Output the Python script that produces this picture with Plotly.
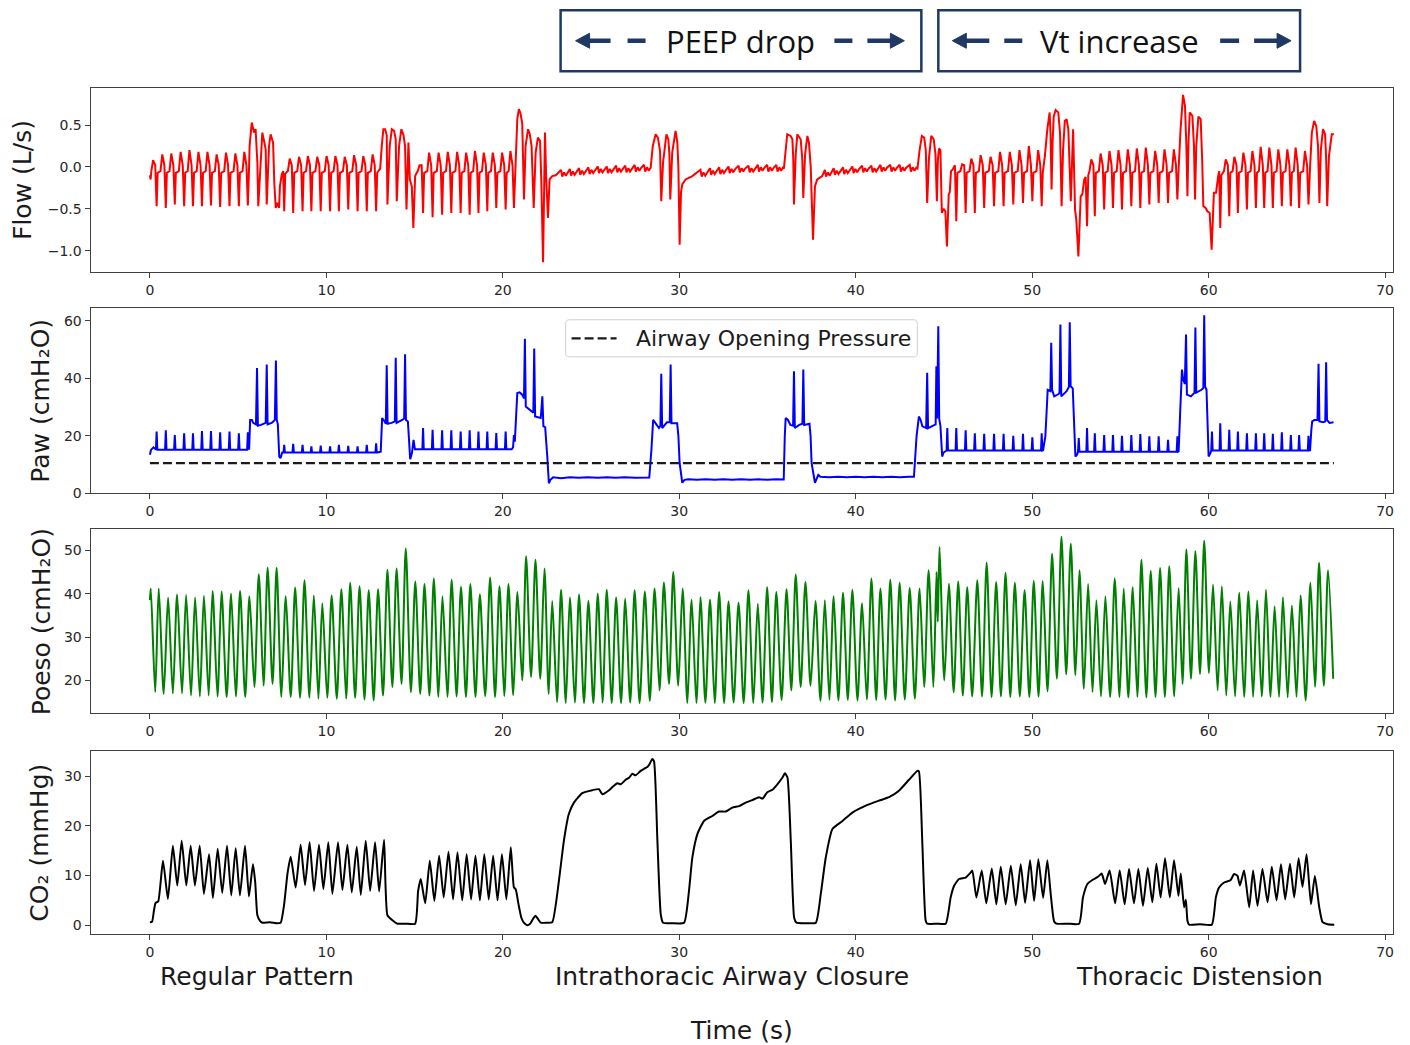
import plotly.graph_objects as go

W, H = 1410, 1045

# ---------------------------------------------------------------- Flow (L/s)
# Regular spontaneous breaths: time of expiratory dip, inspiratory peak, dip value
flow_breath_t = [0.38, 0.9, 1.41, 1.94, 2.44, 2.95, 3.46, 3.98, 4.51, 5.04, 5.55,
                 8.12, 8.65, 9.15, 9.68, 10.21, 10.71, 11.24, 11.77, 12.29, 12.82,
                 15.48, 16.02, 16.56, 17.08, 17.61, 18.12, 18.62, 19.12, 19.63, 20.16, 20.63,
                 45.7, 46.23, 46.75, 47.28, 47.84, 48.38, 48.93, 49.48, 50.01, 50.54,
                 53.55, 54.08, 54.58, 55.09, 55.62, 56.13, 56.64, 57.17, 57.7, 58.23,
                 61.17, 61.66, 62.17, 62.68, 63.15, 63.64, 64.15, 64.66, 65.13, 65.66]
flow_breath_peak = [0.08, 0.15, 0.16, 0.18, 0.2, 0.18, 0.18, 0.15, 0.17, 0.16, 0.18,
                    0.1, 0.12, 0.13, 0.12, 0.13, 0.13, 0.12, 0.14, 0.13, 0.15,
                    0.02, 0.17, 0.17, 0.18, 0.18, 0.17, 0.19, 0.17, 0.17, 0.17, 0.19,
                    -0.03, 0.03, 0.1, 0.14, 0.12, 0.18, 0.18, 0.2, 0.25, 0.2,
                    0.09, 0.16, 0.19, 0.2, 0.21, 0.22, 0.23, 0.19, 0.21, 0.21,
                    0.09, 0.12, 0.17, 0.19, 0.24, 0.23, 0.21, 0.21, 0.23, 0.19]
flow_breath_dip = [-0.47, -0.49, -0.45, -0.47, -0.47, -0.47, -0.46, -0.48, -0.47, -0.47, -0.46,
                   -0.55, -0.53, -0.53, -0.53, -0.53, -0.53, -0.51, -0.53, -0.53, -0.53,
                   -0.55, -0.6, -0.57, -0.55, -0.55, -0.57, -0.55, -0.53, -0.49, -0.51, -0.49,
                   -0.65, -0.55, -0.55, -0.49, -0.47, -0.47, -0.45, -0.43, -0.41, -0.47,
                   -0.59, -0.51, -0.49, -0.51, -0.47, -0.49, -0.45, -0.43, -0.43, -0.39,
                   -0.59, -0.55, -0.51, -0.49, -0.49, -0.49, -0.47, -0.47, -0.49, -0.45]
# Small efforts during airway closure: time and local flow level
flow_closed_t = [23.3, 23.8, 24.32, 24.85, 25.38, 25.89, 26.42, 26.94, 27.47, 28.0,
                 31.2, 31.74, 32.26, 32.79, 33.36, 33.92, 34.45, 34.98, 35.5,
                 38.25, 38.75, 39.28, 39.81, 40.36, 40.89, 41.4, 41.96, 42.49, 43.06]
flow_closed_level = [-0.08, -0.07, -0.06, -0.05, -0.04, -0.04, -0.03, -0.03, -0.02, -0.02,
                     -0.08, -0.06, -0.05, -0.04, -0.03, -0.03, -0.02, -0.02, -0.02,
                     -0.08, -0.06, -0.05, -0.04, -0.03, -0.03, -0.02, -0.02, -0.02, -0.02]
# Large-breath bursts, written point by point
flow_seg_t = [0.0, 0.04,
              5.65, 5.77, 5.9, 5.99, 6.09, 6.14, 6.28, 6.37, 6.47, 6.56, 6.62, 6.75, 6.84, 6.98,
              7.05, 7.13, 7.22, 7.32, 7.37, 7.47, 7.55, 7.61, 7.67,
              13.05, 13.14, 13.23, 13.33, 13.42, 13.46, 13.59, 13.71, 13.84, 13.93, 13.99, 14.12,
              14.25, 14.37, 14.46, 14.54, 14.65, 14.73, 14.84, 14.93, 15.03, 15.12,
              20.75, 20.82, 20.91, 21.0, 21.1, 21.2, 21.29, 21.43, 21.52, 21.63, 21.75, 21.86,
              21.99, 22.11, 22.18, 22.28, 22.35, 22.39, 22.46, 22.56, 22.65, 22.8, 23.0,
              28.38, 28.5, 28.66, 28.79, 28.91, 28.98, 29.08, 29.27, 29.38, 29.44, 29.49, 29.6,
              29.79, 29.89, 29.95, 30.02, 30.1, 30.17, 30.36, 30.74,
              35.93, 36.03, 36.12, 36.31, 36.41, 36.46, 36.5, 36.6, 36.69, 36.88, 36.97, 37.03,
              37.13, 37.26, 37.35, 37.45, 37.58, 37.69, 37.82, 38.1,
              43.5, 43.62, 43.75, 43.88, 43.97, 44.05, 44.15, 44.28, 44.42, 44.52, 44.6, 44.66,
              44.72, 44.8, 44.88, 44.98, 45.08, 45.17, 45.27, 45.33,
              50.72, 50.86, 50.99, 51.04, 51.1, 51.16, 51.22, 51.33, 51.48, 51.58, 51.67, 51.75,
              51.85, 51.95, 52.05, 52.19, 52.26, 52.32, 52.43, 52.5, 52.62, 52.75, 52.84, 52.95,
              53.03, 53.11, 53.18,
              58.33, 58.41, 58.55, 58.66, 58.74, 58.8, 58.86, 58.93, 59.08, 59.17, 59.23, 59.3,
              59.42, 59.55, 59.64, 59.7, 59.83, 59.93, 60.06, 60.17, 60.3, 60.42, 60.55, 60.6,
              60.66, 60.72,
              65.75, 65.85, 65.98, 66.1, 66.2, 66.28, 66.36, 66.48, 66.6, 66.66, 66.72, 66.82,
              66.98, 67.1]
flow_seg_v = [-0.1, -0.15,
              0.25, 0.53, 0.41, 0.45, 0.05, -0.47, 0.07, 0.41, 0.31, 0.21, -0.45, 0.25, 0.39, 0.29,
              -0.19, -0.49, -0.43, -0.49, -0.23, -0.09, -0.05, -0.53, -0.08,
              -0.02, 0.25, 0.45, 0.45, 0.38, -0.45, 0.25, 0.45, 0.43, 0.33, -0.41, 0.25,
              0.45, 0.38, 0.25, -0.51, 0.29, -0.15, -0.23, -0.73, -0.11, -0.07,
              0.3, 0.57, 0.69, 0.64, 0.52, -0.39, 0.25, 0.45, 0.4, 0.25, -0.49, 0.17,
              0.35, 0.31, -0.15, -1.14, -0.15, 0.41, -0.15, -0.61, -0.15, -0.11, -0.1,
              -0.01, 0.25, 0.39, 0.35, 0.19, -0.41, 0.05, 0.39, 0.33, 0.15, -0.39, 0.17,
              0.43, 0.29, 0.0, -0.93, -0.3, -0.21, -0.15, -0.11,
              -0.02, 0.25, 0.39, 0.37, 0.33, 0.1, -0.45, 0.15, 0.39, 0.33, 0.1, -0.37,
              0.15, 0.37, 0.29, 0.0, -0.87, -0.23, -0.15, -0.11,
              -0.02, 0.2, 0.37, 0.35, 0.2, -0.43, 0.1, 0.37, 0.33, 0.15, -0.41, 0.1,
              0.22, 0.2, -0.55, -0.5, -0.53, -0.95, -0.33, -0.3,
              0.13, 0.45, 0.65, 0.4, -0.27, 0.3, 0.6, 0.68, 0.65, 0.4, -0.47, 0.2,
              0.55, 0.57, 0.45, -0.41, 0.2, 0.45, -0.51, -0.63, -1.07, -0.35, -0.33, -0.15,
              -0.12, -0.71, -0.1,
              0.1, 0.45, 0.86, 0.73, 0.25, -0.35, 0.3, 0.65, 0.61, 0.25, -0.39, 0.25,
              0.6, 0.57, 0.05, -0.47, -0.49, -0.53, -0.55, -0.99, -0.31, -0.31, -0.1, -0.05,
              -0.73, -0.1,
              0.0, 0.41, 0.55, 0.49, 0.25, -0.43, 0.2, 0.45, 0.39, 0.1, -0.47, 0.13,
              0.39, 0.39]

# ---------------------------------------------------------------- Paw (cmH2O)
paw_spike_t = [0.38, 0.9, 1.41, 1.94, 2.44, 2.95, 3.46, 3.98, 4.51, 5.04, 5.55,
               7.61, 8.12, 8.65, 9.15, 9.68, 10.21, 10.71, 11.24, 11.77, 12.29, 12.82,
               15.48, 16.02, 16.56, 17.08, 17.61, 18.12, 18.62, 19.12, 19.63, 20.16,
               45.19, 45.7, 46.23, 46.75, 47.28, 47.84, 48.38, 48.93, 49.48, 50.01, 50.54,
               52.64, 53.11, 53.55, 54.08, 54.58, 55.09, 55.62, 56.13, 56.64, 57.17, 57.7, 58.23,
               60.19, 60.66, 61.17, 61.66, 62.17, 62.68, 63.15, 63.64, 64.15, 64.66, 65.13, 65.66]
paw_spike_v = [21.5, 21.9, 20.3, 20.9, 20.9, 21.7, 21.7, 21.2, 21.5, 20.9, 21.2,
               16.9, 17.2, 16.9, 16.3, 16.6, 16.3, 16.9, 16.5, 16.3, 16.9, 17.4,
               22.7, 22.1, 21.9, 21.9, 21.5, 21.9, 21.5, 21.5, 21.0, 21.5,
               22.7, 22.7, 21.9, 20.9, 20.7, 20.7, 20.7, 20.0, 20.7, 19.5, 20.9,
               19.2, 22.7, 20.9, 20.3, 20.3, 20.0, 20.3, 20.6, 19.8, 19.8, 18.6, 19.8,
               21.5, 24.4, 22.1, 21.5, 20.9, 20.9, 20.9, 20.7, 21.2, 20.3, 20.3, 20.0]
paw_spike_base = [15.2] * 11 + [14.2] * 11 + [15.3] * 10 + [14.9] * 11 + [14.5] * 12 + [14.9] * 12
paw_seg_t = [0.0, 0.06, 0.2, 0.3,
             5.62, 5.68, 5.78, 5.85, 6.01, 6.07, 6.12, 6.3, 6.56, 6.62, 6.67, 6.9, 7.08, 7.14,
             7.19, 7.25, 7.33, 7.4, 7.5,
             12.9, 13.08, 13.16, 13.3, 13.37, 13.42, 13.47, 13.7, 13.88, 13.93, 13.98, 14.3,
             14.41, 14.46, 14.51, 14.62, 14.75, 14.85, 14.94, 15.02,
             20.5, 20.58, 20.63, 20.68, 20.82, 20.95, 21.1, 21.2, 21.25, 21.3, 21.55, 21.73,
             21.78, 21.83, 22.15, 22.24, 22.3, 22.4, 22.52, 22.61, 22.7, 22.85,
             23.3, 23.8, 24.3, 24.8, 25.4, 25.9, 26.4, 26.9, 27.5, 28.0, 28.3,
             28.42, 28.52, 28.65, 28.85, 28.93, 28.98, 29.03, 29.3, 29.46, 29.51, 29.56, 29.88,
             29.95, 30.02, 30.17, 30.3, 30.5,
             31.0, 31.5, 32.0, 32.5, 33.0, 33.5, 34.0, 34.5, 35.0, 35.5, 35.92,
             35.98, 36.03, 36.15, 36.3, 36.45, 36.5, 36.55, 36.8, 36.98, 37.03, 37.08, 37.38,
             37.44, 37.5, 37.69, 37.88, 38.0,
             38.5, 39.0, 39.5, 40.0, 40.5, 41.0, 41.5, 42.0, 42.5, 43.0, 43.3,
             43.45, 43.58, 43.68, 43.78, 43.99, 44.05, 44.1, 44.45, 44.53, 44.57, 44.61, 44.68,
             44.73, 44.8, 44.9, 44.98, 45.05,
             50.62, 50.75, 50.88, 51.03, 51.08, 51.13, 51.25, 51.5, 51.55, 51.6, 51.65, 51.95,
             52.08, 52.13, 52.18, 52.3, 52.45, 52.55,
             58.3, 58.4, 58.49, 58.55, 58.65, 58.72, 58.77, 59.0, 59.15, 59.2, 59.25, 59.3,
             59.6, 59.7, 59.75, 59.8, 59.88, 60.0, 60.1,
             65.75, 65.82, 65.87, 66.0, 66.17, 66.23, 66.28, 66.5, 66.61, 66.66, 66.71, 66.85,
             67.08]
paw_seg_v = [13.4, 15.1, 16.0, 15.3,
             15.2, 25.5, 25.5, 24.5, 24.0, 43.6, 23.5, 23.8, 24.5, 44.8, 24.0, 24.5, 25.5, 46.2,
             25.5, 24.0, 12.8, 12.2, 14.2,
             14.2, 14.5, 26.2, 25.0, 24.2, 44.5, 24.2, 24.5, 25.0, 47.1, 24.5, 25.5,
             26.0, 48.3, 25.5, 25.0, 11.9, 14.0, 18.6, 15.3,
             15.3, 16.0, 20.3, 18.0, 34.9, 35.1, 34.3, 33.0, 53.7, 30.2, 29.1, 28.0,
             50.3, 26.7, 26.2, 33.7, 23.3, 23.0, 12.8, 3.5, 4.7, 5.6,
             5.3, 5.6, 5.4, 5.6, 5.4, 5.6, 5.4, 5.6, 5.4, 5.6, 5.5,
             15.0, 25.6, 24.4, 22.7, 23.5, 41.6, 22.7, 24.7, 24.8, 44.8, 24.4, 24.4,
             20.0, 10.5, 3.7, 4.7, 4.9,
             4.7, 4.9, 4.7, 4.9, 4.7, 4.9, 4.7, 4.9, 4.7, 4.9, 4.8,
             20.0, 26.2, 25.6, 23.8, 23.5, 42.4, 22.7, 23.8, 24.2, 43.0, 23.8, 24.2,
             20.0, 10.5, 3.7, 6.4, 5.8,
             5.6, 5.8, 5.6, 5.8, 5.6, 5.8, 5.6, 5.8, 5.6, 5.8, 5.8,
             20.0, 26.7, 25.5, 23.3, 22.7, 41.9, 22.7, 23.8, 24.0, 44.2, 26.0, 58.1,
             26.0, 23.5, 12.8, 14.2, 14.5,
             15.0, 20.0, 36.0, 35.5, 52.3, 36.0, 33.7, 34.5, 35.0, 58.7, 33.7, 35.5,
             37.0, 59.5, 37.2, 36.5, 12.8, 13.5,
             14.6, 30.0, 43.0, 40.0, 38.0, 55.2, 34.3, 33.7, 34.5, 35.0, 57.6, 35.0,
             36.0, 36.6, 61.9, 37.2, 36.0, 12.8, 14.0,
             15.0, 22.0, 25.0, 25.5, 25.5, 45.0, 25.0, 24.7, 25.0, 45.6, 25.5, 24.5,
             24.7]
opening_pressure = 10.5
opening_span = [0.0, 67.1]

# ---------------------------------------------------------------- Poeso (cmH2O)
poeso_start = (0.0, 38.5)
poeso_peak_t = [0.05, 0.5, 1.03, 1.54, 2.05, 2.56, 3.06, 3.55, 4.06, 4.6,
                5.11, 5.64, 6.17, 6.67, 7.18, 7.7, 8.23, 8.76, 9.29, 9.77,
                10.3, 10.85, 11.35, 11.88, 12.4, 12.93, 13.46, 13.98, 14.5, 15.04,
                15.56, 16.09, 16.58, 17.1, 17.63, 18.16, 18.7, 19.28, 19.81, 20.32,
                20.83, 21.32, 21.85, 22.36, 22.8, 23.3, 23.8, 24.32, 24.85, 25.38,
                25.89, 26.42, 26.94, 27.47, 28.05, 28.6, 29.13, 29.66, 30.19, 30.7,
                31.2, 31.74, 32.26, 32.79, 33.36, 33.92, 34.45, 34.98, 35.5, 36.08,
                36.6, 37.15, 37.72, 38.25, 38.75, 39.28, 39.81, 40.36, 40.89, 41.4,
                41.96, 42.49, 43.06, 43.62, 44.13, 44.75, 45.28, 45.81, 46.32, 46.89,
                47.42, 47.96, 48.49, 49.02, 49.57, 50.09, 50.6, 51.13, 51.66, 52.19,
                52.68, 53.17, 53.64, 54.15, 54.68, 55.19, 55.7, 56.19, 56.72, 57.25,
                57.77, 58.3, 58.74, 59.25, 59.75, 60.25, 60.75, 61.23, 61.74, 62.26,
                62.75, 63.25, 63.74, 64.21, 64.72, 65.21, 65.77, 66.26, 66.77,
                44.58]
poeso_peak_v = [41.2, 41.2, 39.1, 39.8, 39.7, 39.1, 39.5, 40.6, 40.5, 40.0,
                40.6, 39.4, 44.5, 46.0, 46.0, 39.4, 41.4, 43.1, 39.6, 37.8,
                39.6, 41.0, 42.5, 41.7, 40.8, 41.0, 45.5, 45.8, 50.4, 42.8,
                42.2, 43.5, 39.4, 43.2, 41.6, 42.2, 39.8, 43.7, 41.7, 42.2,
                40.4, 48.6, 47.8, 45.8, 38.3, 40.9, 39.1, 39.8, 38.3, 40.0,
                40.9, 39.1, 38.8, 40.8, 40.5, 41.2, 42.6, 45.0, 41.2, 38.6,
                39.2, 38.6, 40.4, 38.2, 37.9, 40.8, 37.7, 41.5, 40.4, 41.0,
                44.4, 42.7, 38.3, 38.5, 39.4, 40.2, 40.9, 37.8, 43.5, 41.2,
                43.2, 42.5, 41.3, 41.2, 45.4, 50.8, 42.3, 42.8, 41.5, 43.1,
                47.1, 42.7, 44.8, 42.5, 40.8, 42.9, 42.9, 49.2, 53.1, 51.5,
                45.4, 42.2, 38.5, 39.4, 43.5, 41.2, 41.5, 47.8, 45.2, 45.9,
                46.3, 41.3, 50.2, 49.8, 52.2, 42.1, 41.7, 38.2, 40.2, 40.5,
                38.5, 40.9, 37.1, 39.2, 37.3, 39.6, 42.5, 47.1, 45.4,
                45.0]
poeso_trough_t = [0.3, 0.78, 1.3, 1.82, 2.33, 2.83, 3.33, 3.83, 4.35, 4.87,
                  5.4, 5.92, 6.44, 6.95, 7.45, 7.98, 8.51, 9.04, 9.55, 10.05,
                  10.59, 11.12, 11.63, 12.16, 12.68, 13.21, 13.74, 14.26, 14.79, 15.32,
                  15.84, 16.35, 16.86, 17.38, 17.91, 18.45, 19.0, 19.56, 20.08, 20.59,
                  21.1, 21.6, 22.12, 22.6, 23.07, 23.57, 24.08, 24.6, 25.13, 25.65,
                  26.17, 26.7, 27.22, 27.75, 28.33, 28.88, 29.42, 29.94, 30.46, 30.97,
                  31.48, 32.01, 32.54, 33.08, 33.65, 34.2, 34.72, 35.25, 35.8, 36.35,
                  36.88, 37.44, 38.0, 38.51, 39.02, 39.55, 40.1, 40.63, 41.16, 41.69,
                  42.23, 42.78, 43.35, 43.88, 44.4, 45.02, 45.55, 46.07, 46.6, 47.16,
                  47.7, 48.23, 48.76, 49.3, 49.84, 50.36, 50.87, 51.4, 51.93, 52.45,
                  52.93, 53.42, 53.9, 54.42, 54.95, 55.45, 55.96, 56.47, 56.99, 57.52,
                  58.05, 58.52, 59.0, 59.51, 60.02, 60.51, 61.0, 61.5, 62.01, 62.52,
                  63.01, 63.51, 63.99, 64.48, 64.98, 65.5, 66.03, 66.53, 67.06,
                  44.65]
poeso_trough_v = [17.3, 16.9, 17.0, 17.0, 16.5, 16.3, 16.5, 16.3, 16.2, 16.3,
                  16.2, 18.5, 18.8, 19.2, 16.2, 16.2, 16.0, 16.0, 15.8, 16.0,
                  15.8, 15.8, 16.0, 15.6, 15.4, 16.5, 18.5, 19.2, 17.3, 16.9,
                  16.5, 16.2, 16.2, 16.3, 16.2, 16.2, 16.4, 16.2, 16.4, 16.6,
                  20.0, 20.8, 20.4, 16.9, 15.0, 14.8, 14.9, 14.8, 14.8, 14.9,
                  14.8, 14.8, 14.9, 14.8, 15.3, 17.7, 19.2, 18.8, 14.8, 14.8,
                  14.9, 14.8, 14.8, 14.9, 14.8, 14.8, 14.9, 15.0, 15.5, 17.7,
                  18.5, 18.8, 15.3, 15.5, 15.4, 15.5, 15.4, 15.6, 15.5, 15.6,
                  15.4, 15.6, 15.8, 18.5, 18.5, 20.0, 17.3, 16.5, 16.3, 16.3,
                  16.2, 16.3, 16.2, 16.3, 16.2, 16.3, 17.5, 20.4, 21.4, 21.2,
                  18.1, 17.3, 16.3, 16.2, 16.2, 16.1, 16.2, 16.1, 16.2, 16.2,
                  16.3, 19.2, 20.4, 21.5, 21.7, 17.7, 16.5, 16.3, 16.2, 16.2,
                  16.3, 16.2, 16.2, 16.1, 16.2, 15.4, 18.5, 18.8, 20.4,
                  33.5]

# ---------------------------------------------------------------- CO2 (mmHg)
co2_t = [0.0, 0.12, 0.23, 0.32, 0.47, 0.74, 1.02, 1.3, 1.55, 1.8, 2.06, 2.31, 2.55, 2.82,
         3.06, 3.35, 3.57, 3.84, 4.1, 4.37, 4.61, 4.86, 5.1, 5.39, 5.61, 5.84, 5.97, 6.09,
         6.25, 6.37, 6.8, 7.2, 7.41, 7.6, 7.8, 7.98, 8.26, 8.54, 8.79, 9.05, 9.3, 9.58, 9.83,
         10.11, 10.34, 10.66, 10.91, 11.19, 11.44, 11.72, 11.95, 12.23, 12.48, 12.76, 12.99,
         13.27, 13.46, 13.74, 14.03, 14.5, 15.03, 15.2, 15.35, 15.6, 15.86, 16.12, 16.39,
         16.65, 16.92, 17.18, 17.43, 17.7, 17.95, 18.2, 18.45, 18.7, 18.95, 19.2, 19.45,
         19.7, 19.95, 20.2, 20.45, 20.63, 20.72, 20.78, 20.9, 21.05, 21.19, 21.38, 21.55,
         21.7, 21.85, 22.0, 22.15, 22.5, 22.8, 23.18, 23.46, 23.74, 24.03, 24.5, 25.07,
         25.45, 25.64, 26.02, 26.2, 26.49, 26.68, 26.96, 27.15, 27.34, 27.53, 27.81, 28.0,
         28.19, 28.32, 28.47, 28.57, 28.76, 28.95, 29.08, 29.6, 30.27, 30.55, 30.74, 31.03,
         31.4, 31.87, 32.25, 32.63, 33.01, 33.39, 33.76, 34.14, 34.52, 34.71, 34.99, 35.28,
         35.56, 35.84, 35.99, 36.13, 36.32, 36.51, 36.64, 37.2, 37.74, 38.02, 38.3, 38.68,
         39.25, 39.81, 40.57, 41.32, 41.89, 42.45, 43.02, 43.49, 43.58, 43.77, 43.96, 44.05,
         44.6, 45.1, 45.38, 45.57, 45.85, 46.23, 46.51, 46.61, 46.84, 47.14, 47.4, 47.71,
         47.97, 48.22, 48.5, 48.79, 49.07, 49.35, 49.6, 49.88, 50.11, 50.35, 50.62, 50.86,
         51.05, 51.24, 51.37, 52.0, 52.66, 52.88, 53.13, 53.41, 53.75, 53.94, 54.13, 54.39,
         54.7, 54.96, 55.24, 55.49, 55.77, 56.02, 56.28, 56.55, 56.81, 57.04, 57.28, 57.53,
         57.8, 58.04, 58.29, 58.42, 58.61, 58.71, 58.8, 58.89, 59.5, 60.18, 60.41, 60.59,
         60.88, 61.25, 61.44, 61.63, 61.77, 62.01, 62.3, 62.52, 62.77, 63.05, 63.34, 63.58,
         63.85, 64.1, 64.34, 64.61, 64.85, 65.1, 65.32, 65.55, 65.8, 66.02, 66.27, 66.46,
         66.74, 67.12]
co2_v = [0.6, 0.7, 3.0, 4.5, 4.8, 13.0, 5.3, 16.0, 8.0, 17.0, 8.0, 16.0, 8.0, 16.0,
         6.3, 14.3, 5.5, 15.4, 6.5, 16.0, 6.0, 15.5, 6.0, 16.0, 5.8, 12.3, 8.5, 2.0,
         0.8, 0.5, 0.6, 0.4, 0.5, 4.0, 10.5, 13.8, 7.6, 16.2, 8.1, 16.7, 6.9, 16.2, 7.3,
         16.7, 6.3, 16.7, 7.1, 16.2, 6.6, 15.8, 6.1, 17.0, 6.9, 16.7, 6.8,
         17.2, 2.0, 1.0, 0.3, 0.3, 0.3, 6.9, 9.3, 4.4, 13.0, 4.9, 14.0,
         5.6, 14.8, 5.2, 14.7, 5.0, 14.3, 5.2, 14.0, 5.0, 14.3, 5.2, 14.0,
         5.0, 14.3, 5.2, 15.7, 7.6, 7.3, 6.5, 4.0, 1.5, 0.5, 0.0, 0.3,
         1.2, 1.9, 1.2, 0.5, 0.5, 0.6, 9.0, 17.0, 22.4, 24.7, 26.6, 27.2,
         27.4, 26.4, 27.2, 27.8, 28.6, 28.4, 29.3, 29.7, 30.5, 30.2, 31.1, 31.5,
         31.9, 32.5, 33.5, 33.0, 17.0, 2.2, 0.5, 0.4, 0.5, 6.9, 13.6, 18.4,
         21.0, 22.0, 22.9, 22.9, 23.7, 24.0, 24.7, 25.2, 25.8, 25.5, 26.8, 27.3,
         28.4, 29.7, 30.6, 29.8, 17.0, 1.5, 0.5, 0.4, 0.5, 6.3, 13.6, 19.4,
         21.0, 22.7, 24.1, 25.1, 25.8, 27.1, 29.3, 31.1, 31.0, 17.0, 1.0, 0.3,
         0.3, 0.3, 5.6, 7.9, 9.3, 9.6, 10.6, 11.0, 5.6, 11.0, 4.4, 11.4,
         4.2, 11.8, 4.2, 12.0, 4.0, 12.3, 4.5, 13.1, 4.9, 13.3, 5.5, 13.1,
         6.3, 0.8, 0.3, 0.3, 0.3, 5.6, 8.3, 9.1, 9.8, 10.4, 8.3, 11.0,
         4.4, 11.0, 4.2, 11.3, 4.4, 11.3, 3.9, 11.5, 4.6, 12.4, 5.6, 13.5,
         5.6, 13.1, 5.9, 10.4, 3.6, 5.1, 0.9, 0.1, 0.2, 0.1, 5.6, 7.6,
         8.6, 9.1, 10.3, 10.0, 8.0, 11.0, 3.6, 11.0, 3.9, 11.3, 4.6, 11.8,
         5.0, 12.3, 5.2, 12.4, 5.6, 13.5, 7.7, 14.3, 4.2, 9.9, 3.6, 0.6,
         0.2, 0.1]

# ---------------------------------------------------------------- text
x_ticks = [0, 10, 20, 30, 40, 50, 60, 70]
panel_titles = ["Flow (L/s)", "Paw (cmH\u2082O)", "Poeso (cmH\u2082O)", "CO\u2082 (mmHg)"]
phase_labels = ["Regular Pattern", "Intrathoracic Airway Closure", "Thoracic Distension"]
banner_labels = ["PEEP drop", "Vt increase"]
legend_label = "Airway Opening Pressure"


def merged(*pairs):
    pts = []
    for ts, vs in pairs:
        pts.extend(zip(ts, vs))
    pts.sort(key=lambda p: p[0])
    return [p[0] for p in pts], [p[1] for p in pts]


def unzip(pts):
    return [p[0] for p in pts], [p[1] for p in pts]


# regular breath outline: baseline, inspiratory hump, return, expiratory dip, recovery
def breath_outline(t, pk, dip):
    return [(t - 0.30, -0.05), (t - 0.20, pk), (t - 0.08, 0.02), (t, dip), (t + 0.06, -0.07)]


# small flicker around the local level while the airway is closed
def closed_outline(t, lv):
    return [(t, lv + 0.045), (t + 0.07, lv - 0.035), (t + 0.17, lv + 0.015),
            (t + 0.27, lv - 0.025), (t + 0.37, lv + 0.01)]


def spike_outline(t, pk, base):
    return [(t - 0.04, base), (t, pk), (t + 0.04, base)]


fb = [p for t, a, b in zip(flow_breath_t, flow_breath_peak, flow_breath_dip) for p in breath_outline(t, a, b)]
fc = [p for t, lv in zip(flow_closed_t, flow_closed_level) for p in closed_outline(t, lv)]
flow_x, flow_y = merged(unzip(fb), unzip(fc), (flow_seg_t, flow_seg_v))

ps = [p for t, a, b in zip(paw_spike_t, paw_spike_v, paw_spike_base) for p in spike_outline(t, a, b)]
paw_x, paw_y = merged(unzip(ps), (paw_seg_t, paw_seg_v))

poeso_x, poeso_y = merged(([poeso_start[0]], [poeso_start[1]]),
                          (poeso_peak_t, poeso_peak_v), (poeso_trough_t, poeso_trough_v))

FONT = "DejaVu Sans"
NAVY = "#1f3864"
rows_px = [(88.3, 272.7), (308.3, 493.3), (529.3, 712.7), (750.7, 933.3)]
x_px = (90.7, 1394.0)


def pxx(x):
    return x / W


def pxy(y):
    # slight vertical stretch keeps the rendered page in register with its pixel grid
    return 1 - ((y - 0.83) / 0.9905) / H


fig = go.Figure()
fig.add_trace(go.Scatter(x=flow_x, y=flow_y, mode="lines", line=dict(color="#ff0000", width=2),
                         xaxis="x", yaxis="y"))
fig.add_trace(go.Scatter(x=paw_x, y=paw_y, mode="lines", line=dict(color="#0000ff", width=2),
                         xaxis="x2", yaxis="y2"))
fig.add_trace(go.Scatter(x=opening_span, y=[opening_pressure, opening_pressure], mode="lines",
                         line=dict(color="#1a1a1a", width=2.2, dash="9px,4px"),
                         name=legend_label, xaxis="x2", yaxis="y2"))
fig.add_trace(go.Scatter(x=poeso_x, y=poeso_y, mode="lines",
                         line=dict(color="#008000", width=2, shape="spline", smoothing=0.8),
                         xaxis="x3", yaxis="y3"))
fig.add_trace(go.Scatter(x=co2_t, y=co2_v, mode="lines",
                         line=dict(color="#000000", width=2, shape="spline", smoothing=0.5),
                         xaxis="x4", yaxis="y4"))

axis_style = dict(showline=True, linecolor="#404040", linewidth=1.2, mirror=True,
                  ticks="outside", ticklen=5, tickwidth=1.2, tickcolor="#404040",
                  showgrid=False, zeroline=False,
                  tickfont=dict(family=FONT, size=14, color="#262626"))
y_ranges = [[-1.26, 0.947], [0.0, 64.4], [12.45, 54.8], [-1.82, 35.05]]
y_ticks = [([-1.0, -0.5, 0.0, 0.5], ["\u22121.0", "\u22120.5", "0.0", "0.5"]),
           ([0, 20, 40, 60], ["0", "20", "40", "60"]),
           ([20, 30, 40, 50], ["20", "30", "40", "50"]),
           ([0, 10, 20, 30], ["0", "10", "20", "30"])]

layout = dict(width=W, height=H, margin=dict(l=0, r=0, t=0, b=0),
              paper_bgcolor="white", plot_bgcolor="white", showlegend=False,
              font=dict(family=FONT, color="#1a1a1a"))
for i, (top, bot) in enumerate(rows_px):
    k = "" if i == 0 else str(i + 1)
    layout["xaxis" + k] = dict(axis_style, domain=[pxx(x_px[0]), pxx(x_px[1])],
                               anchor="y" + k, range=[-3.36, 70.45],
                               tickvals=x_ticks, ticktext=[str(v) for v in x_ticks])
    layout["yaxis" + k] = dict(axis_style, domain=[pxy(bot), pxy(top)], anchor="x" + k,
                               range=y_ranges[i], tickvals=y_ticks[i][0], ticktext=y_ticks[i][1])
fig.update_layout(**layout)

# y-axis titles
title_x = [22, 41, 41, 40]
for i, (top, bot) in enumerate(rows_px):
    fig.add_annotation(x=pxx(title_x[i]), y=pxy((top + bot) / 2), xref="paper", yref="paper",
                       text=panel_titles[i], textangle=-90, showarrow=False,
                       xanchor="center", yanchor="middle",
                       font=dict(family=FONT, size=25, color="#1a1a1a"))

# phase labels under the bottom panel and the shared time label
for label, cx in zip(phase_labels, [257, 733, 1200]):
    fig.add_annotation(x=pxx(cx), y=pxy(976), xref="paper", yref="paper", text=label,
                       showarrow=False, xanchor="center", yanchor="middle",
                       font=dict(family=FONT, size=25, color="#1a1a1a"))
fig.add_annotation(x=pxx(742), y=pxy(1029), xref="paper", yref="paper", text="Time (s)",
                   showarrow=False, xanchor="center", yanchor="middle",
                   font=dict(family=FONT, size=25, color="#1a1a1a"))

shapes = []

# legend box for the dashed reference line (rounded frame, dashed sample, label)
lx0, lx1, ly0, ly1, r = 566, 918, 320, 357, 4
lpath = (f"M {pxx(lx0 + r)} {pxy(ly0)} L {pxx(lx1 - r)} {pxy(ly0)} "
         f"Q {pxx(lx1)} {pxy(ly0)} {pxx(lx1)} {pxy(ly0 + r)} L {pxx(lx1)} {pxy(ly1 - r)} "
         f"Q {pxx(lx1)} {pxy(ly1)} {pxx(lx1 - r)} {pxy(ly1)} L {pxx(lx0 + r)} {pxy(ly1)} "
         f"Q {pxx(lx0)} {pxy(ly1)} {pxx(lx0)} {pxy(ly1 - r)} L {pxx(lx0)} {pxy(ly0 + r)} "
         f"Q {pxx(lx0)} {pxy(ly0)} {pxx(lx0 + r)} {pxy(ly0)} Z")
shapes.append(dict(type="path", xref="paper", yref="paper", path=lpath,
                   fillcolor="rgba(255,255,255,0.85)", line=dict(color="#d0d0d0", width=1)))
shapes.append(dict(type="line", xref="paper", yref="paper", x0=pxx(572), x1=pxx(617),
                   y0=pxy(338.5), y1=pxy(338.5),
                   line=dict(color="#1a1a1a", width=2.2, dash="9px,4px")))
fig.add_annotation(x=pxx(634), y=pxy(338.5), xref="paper", yref="paper", text=legend_label,
                   showarrow=False, xanchor="left", yanchor="middle",
                   font=dict(family=FONT, size=22, color="#1a1a1a"))

# intervention banners above the flow panel
banners = [(561, 922, 741.5, (576, 611), (628, 646), (835, 853), (868, 905)),
           (939, 1301, 1120, (953, 990), (1005, 1023), (1221, 1240), (1255, 1292))]
by = 41.5
for (bx0, bx1, tcx, la, ld, rd, ra), label in zip(banners, banner_labels):
    shapes.append(dict(type="rect", xref="paper", yref="paper", x0=pxx(bx0), x1=pxx(bx1),
                       y0=pxy(72), y1=pxy(11), line=dict(color=NAVY, width=2.5)))
    for d0, d1 in (ld, rd):
        shapes.append(dict(type="line", xref="paper", yref="paper", x0=pxx(d0), x1=pxx(d1),
                           y0=pxy(by), y1=pxy(by), line=dict(color=NAVY, width=4.5)))
    tip, tail = la
    shapes.append(dict(type="line", xref="paper", yref="paper", x0=pxx(tip + 10), x1=pxx(tail),
                       y0=pxy(by), y1=pxy(by), line=dict(color=NAVY, width=4.5)))
    shapes.append(dict(type="path", xref="paper", yref="paper",
                       path=f"M {pxx(tip)} {pxy(by)} L {pxx(tip + 14)} {pxy(by - 7.5)} "
                            f"L {pxx(tip + 14)} {pxy(by + 7.5)} Z",
                       fillcolor=NAVY, line=dict(color=NAVY, width=1)))
    tail, tip = ra
    shapes.append(dict(type="line", xref="paper", yref="paper", x0=pxx(tail), x1=pxx(tip - 10),
                       y0=pxy(by), y1=pxy(by), line=dict(color=NAVY, width=4.5)))
    shapes.append(dict(type="path", xref="paper", yref="paper",
                       path=f"M {pxx(tip)} {pxy(by)} L {pxx(tip - 14)} {pxy(by - 7.5)} "
                            f"L {pxx(tip - 14)} {pxy(by + 7.5)} Z",
                       fillcolor=NAVY, line=dict(color=NAVY, width=1)))
    fig.add_annotation(x=pxx(tcx), y=pxy(42), xref="paper", yref="paper", text=label,
                       showarrow=False, xanchor="center", yanchor="middle",
                       font=dict(family="Open Sans", size=31, color="#111111"))
fig.update_layout(shapes=shapes)

fig.write_html("out.html")
